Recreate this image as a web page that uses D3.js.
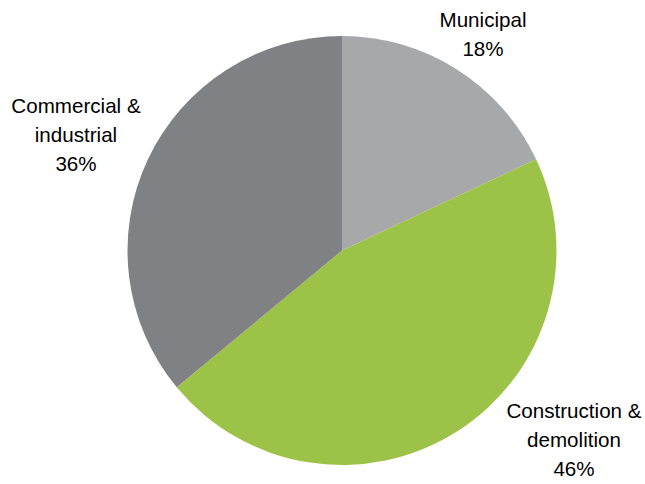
<!DOCTYPE html>
<html>
<head>
<meta charset="utf-8">
<script src="https://cdn.jsdelivr.net/npm/d3@7"></script>
<style>
  html, body { margin: 0; padding: 0; background: #ffffff; }
  svg { display: block; }
  text { font-family: "Liberation Sans", Arial, sans-serif; fill: #000000; }
</style>
</head>
<body>
<svg id="chart" width="645" height="484"></svg>
<script>
// Waste stream shares (%)
const categories = ["Municipal", "Construction & demolition", "Commercial & industrial"];
const shares = [18, 46, 36];
const labelLines = [["Municipal", "18%"], ["Construction &", "demolition", "46%"], ["Commercial &", "industrial", "36%"]];
const colors = ["#a7a8aa", "#9dc248", "#808184"];

const width = 645, height = 484;
const cx = 342, cy = 250.5, radius = 214.5;

const svg = d3.select("#chart");

const pie = d3.pie().sort(null).value(d => d.value);
const arcs = pie(categories.map((c, i) => ({ name: c, value: shares[i] })));
const arc = d3.arc().innerRadius(0).outerRadius(radius);
const color = d3.scaleOrdinal().domain(categories).range(colors);

const g = svg.append("g").attr("transform", `translate(${cx},${cy})`);
g.selectAll("path")
  .data(arcs)
  .join("path")
  .attr("d", arc)
  .attr("fill", d => color(d.data.name));

// Label placement: anchor point outside the pie for each slice
const labelPos = [
  { x: 483, y: 27 },
  { x: 574, y: 418 },
  { x: 76, y: 113 }
];
const lineHeight = 29;

const labels = svg.append("g");
labelLines.forEach((lines, i) => {
  const t = labels.append("text")
    .attr("text-anchor", "middle")
    .attr("font-size", 20.6)
    .attr("x", labelPos[i].x)
    .attr("y", labelPos[i].y);
  lines.forEach((ln, j) => {
    t.append("tspan")
      .attr("x", labelPos[i].x)
      .attr("dy", j === 0 ? 0 : lineHeight)
      .text(ln);
  });
});
</script>
</body>
</html>
